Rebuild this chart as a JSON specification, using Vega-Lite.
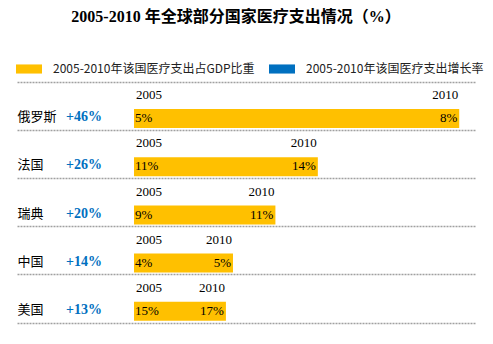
{
  "$schema": "https://vega.github.io/schema/vega-lite/v6.json",
  "width": 458,
  "height": 241,
  "autosize": {"type": "none"},
  "padding": {"left": 17, "top": 82, "right": 18, "bottom": 21},
  "background": "white",
  "title": {
    "text": "2005-2010 年全球部分国家医疗支出情况（%）",
    "font": "Liberation Serif, Noto Sans CJK SC",
    "fontSize": 16,
    "fontWeight": "bold",
    "color": "#000000",
    "anchor": "middle",
    "dx": -10,
    "offset": 31
  },
  "config": {
    "view": {"stroke": null},
    "axisX": {"labels": false, "ticks": false, "grid": false, "domain": true, "domainDash": [2, 1], "domainColor": "#a0a0a0", "domainWidth": 1.5},
    "axisY": {"labelAlign": "left", "labelPadding": 0, "ticks": false, "tickSize": 0, "domain": false, "grid": true, "gridDash": [2, 1], "gridColor": "#a0a0a0", "gridWidth": 1.5, "labelOffset": 11, "labelFont": "Noto Sans CJK SC", "labelFontSize": 13, "labelColor": "#000000", "labelBaseline": "middle"}
  },
  "data": {
    "values": [
      {"country": "俄罗斯", "growth": 46, "g": "+46%", "a": "5%", "b": "8%"},
      {"country": "法国", "growth": 26, "g": "+26%", "a": "11%", "b": "14%"},
      {"country": "瑞典", "growth": 20, "g": "+20%", "a": "9%", "b": "11%"},
      {"country": "中国", "growth": 14, "g": "+14%", "a": "4%", "b": "5%"},
      {"country": "美国", "growth": 13, "g": "+13%", "a": "15%", "b": "17%"}
    ]
  },
  "encoding": {
    "y": {"field": "country", "type": "nominal", "sort": null, "title": null, "scale": {"paddingInner": 0, "paddingOuter": 0}, "axis": {"bandPosition": 0}}
  },
  "layer": [
    {
      "mark": {"type": "bar", "height": 19, "yOffset": 12.4},
      "encoding": {
        "x": {"field": "growth", "type": "quantitative", "title": null, "scale": {"domain": [-16.55, 48.23], "nice": false, "zero": false}},
        "x2": {"datum": 0},
        "color": {
          "datum": "2005-2010年该国医疗支出占GDP比重",
          "scale": {"domain": ["2005-2010年该国医疗支出占GDP比重", "2005-2010年该国医疗支出增长率"], "range": ["#FFC000", "#0070C0"]},
          "legend": {"orient": "none", "legendX": -1, "legendY": -26, "direction": "horizontal", "title": null, "symbolType": "M-1,-0.35H1V0.35H-1Z", "symbolSize": 676, "symbolStrokeWidth": 0, "symbolOpacity": 1, "labelFont": "Noto Sans CJK SC", "labelFontSize": 12, "labelColor": "#222222", "labelOffset": 11, "labelLimit": 400, "columnPadding": 14, "padding": 0}
        }
      }
    },
    {
      "mark": {"type": "text", "text": "2005", "align": "left", "dx": 2, "dy": -11, "font": "Liberation Serif", "fontSize": 13, "color": "#000000", "baseline": "middle"},
      "encoding": {"x": {"datum": 0, "type": "quantitative", "title": null}}
    },
    {
      "mark": {"type": "text", "text": "2010", "align": "right", "dx": -1, "dy": -11, "font": "Liberation Serif", "fontSize": 13, "color": "#000000", "baseline": "middle"},
      "encoding": {"x": {"field": "growth", "type": "quantitative", "title": null}}
    },
    {
      "mark": {"type": "text", "align": "left", "dx": 1, "dy": 12, "font": "Liberation Serif", "fontSize": 13, "color": "#000000", "baseline": "middle"},
      "encoding": {"x": {"datum": 0, "type": "quantitative", "title": null}, "text": {"field": "a"}}
    },
    {
      "mark": {"type": "text", "align": "right", "dx": -2, "dy": 12, "font": "Liberation Serif", "fontSize": 13, "color": "#000000", "baseline": "middle"},
      "encoding": {"x": {"field": "growth", "type": "quantitative", "title": null}, "text": {"field": "b"}}
    },
    {
      "mark": {"type": "text", "align": "right", "dx": -32, "dy": 11, "font": "Liberation Serif", "fontSize": 14, "fontWeight": "bold", "baseline": "middle"},
      "encoding": {
        "x": {"datum": 0, "type": "quantitative", "title": null},
        "text": {"field": "g"},
        "color": {"datum": "2005-2010年该国医疗支出增长率"}
      }
    }
  ]
}
